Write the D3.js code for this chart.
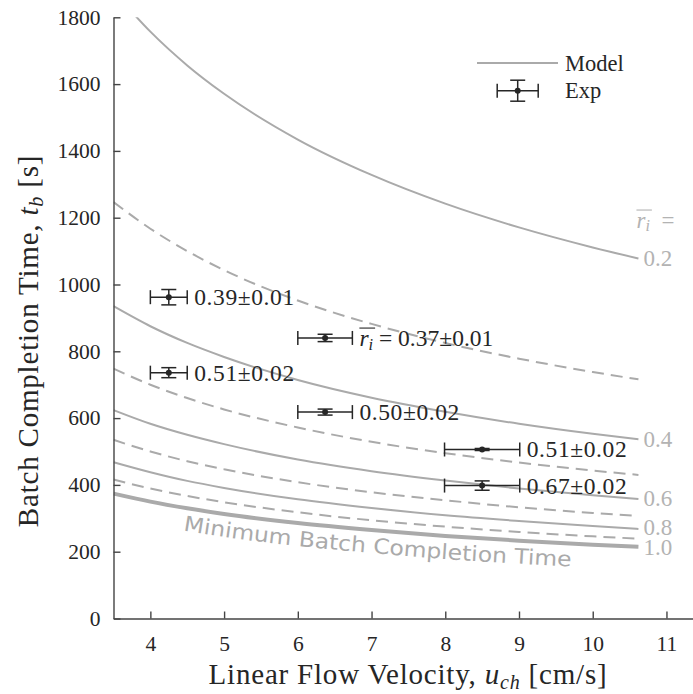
<!DOCTYPE html>
<html>
<head>
<meta charset="utf-8">
<script src="https://cdn.jsdelivr.net/npm/d3@7"></script>
<style>
  body { margin: 0; background: #fff; }
  text { font-family: "Liberation Serif", "DejaVu Serif", serif; fill: #262626; }
</style>
</head>
<body>
<div id="chart"></div>
<script>
// velocity grid where the model curves were read [cm/s]
const uGrid = [3.5, 4, 4.5, 5, 6, 7, 8, 9, 10, 10.62];

// model curves, batch completion time [s] per mean ratio r_i
const modelR = ["0.2", "0.3", "0.4", "0.5", "0.6", "0.7", "0.8", "0.9", "1.0"];
const t02 = [1878, 1757, 1656, 1571, 1434, 1328, 1242, 1171, 1111, 1078];
const t03 = [1247, 1167, 1100, 1043, 952, 882, 825, 778, 738, 716];
const t04 = [935, 875, 825, 783, 714, 661, 619, 583, 553, 537];
const t05 = [748, 700, 660, 626, 572, 529, 495, 467, 443, 430];
const t06 = [624, 583, 550, 522, 476, 441, 413, 389, 369, 358];
const t07 = [535, 500, 471, 447, 408, 378, 354, 333, 316, 307];
const t08 = [468, 438, 412, 391, 357, 331, 309, 292, 277, 268];
const t09 = [416, 389, 367, 348, 318, 294, 275, 259, 246, 239];
const t10 = [374, 350, 330, 313, 286, 265, 247, 233, 221, 215];
const modelT = [t02, t03, t04, t05, t06, t07, t08, t09, t10];
const labelledR = ["0.2", "0.4", "0.6", "0.8", "1.0"];

// experiments
const expU = [4.25, 4.25, 6.37, 6.37, 8.5, 8.5];
const expUErr = [0.25, 0.25, 0.37, 0.37, 0.51, 0.51];
const expT = [962, 736, 840, 618, 506, 398];
const expTErr = [23, 15, 11, 9, 3, 14];
const expLabel = ["0.39±0.01", "0.51±0.02", "0.37±0.01", "0.50±0.02", "0.51±0.02", "0.67±0.02"];

const xTicks = [4, 5, 6, 7, 8, 9, 10, 11];
const yTicks = [0, 200, 400, 600, 800, 1000, 1200, 1400, 1600, 1800];

const W = 693, H = 694;
const pLeft = 113.5, pRight = 693, pTop = 17.3, pBottom = 618.5;
const grey = "#aaaaaa";
const labelGrey = "#b3b3b3";
const ink = "#262626";

const svg = d3.select("#chart").append("svg")
  .attr("width", W)
  .attr("height", H);

const x = d3.scaleLinear().domain([3.5, 11.36]).range([pLeft, pRight]);
const y = d3.scaleLinear().domain([0, 1800]).range([pBottom, pTop]);

svg.append("clipPath").attr("id", "clip")
  .append("rect")
  .attr("x", pLeft).attr("y", pTop)
  .attr("width", pRight - pLeft).attr("height", pBottom - pTop);

// model lines
const line = d3.line()
  .x(d => x(d[0]))
  .y(d => y(d[1]))
  .curve(d3.curveMonotoneX);

const curves = modelR.map((r, i) => ({
  r,
  pts: uGrid.map((u, j) => [u, modelT[i][j]])
}));

svg.append("g").attr("clip-path", "url(#clip)")
  .selectAll("path")
  .data(curves)
  .join("path")
  .attr("d", d => line(d.pts))
  .attr("fill", "none")
  .attr("stroke", grey)
  .attr("stroke-width", d => d.r === "1.0" ? 4 : 2)
  .attr("stroke-dasharray", (d, i) => i % 2 === 1 ? "12,7" : null);

// minimum batch completion time label along the r=1 curve
const offsetLine = d3.line()
  .x(d => x(d[0]))
  .y(d => y(d[1]) + 23)
  .curve(d3.curveMonotoneX);

svg.append("path")
  .attr("id", "minPath")
  .attr("d", offsetLine(curves[curves.length - 1].pts))
  .attr("fill", "none")
  .attr("stroke", "none");

svg.append("text")
  .style("font-family", "'DejaVu Sans', sans-serif")
  .style("font-size", "21px")
  .style("fill", grey)
  .append("textPath")
  .attr("href", "#minPath")
  .attr("startOffset", 71)
  .attr("textLength", 390)
  .attr("lengthAdjust", "spacingAndGlyphs")
  .text("Minimum Batch Completion Time");

// right-hand r_i labels
const uEnd = uGrid[uGrid.length - 1];
const nudge = { "0.8": -1, "1.0": 1 };
svg.append("g")
  .selectAll("text")
  .data(curves.filter(d => labelledR.includes(d.r)))
  .join("text")
  .attr("x", x(uEnd) + 5)
  .attr("y", d => y(d.pts[d.pts.length - 1][1]) + (nudge[d.r] || 0))
  .attr("dominant-baseline", "central")
  .style("font-size", "23px")
  .style("fill", labelGrey)
  .text(d => d.r);

function rBar(sel, xPos, yPos, size, color, rest) {
  const t = sel.append("text")
    .attr("x", xPos)
    .attr("y", yPos)
    .attr("dominant-baseline", "central")
    .style("font-size", size + "px")
    .style("fill", color);
  t.append("tspan").style("font-style", "italic").text("r");
  t.append("tspan").style("font-style", "italic")
    .style("font-size", (size * 0.7) + "px")
    .attr("dy", size * 0.25).text("i");
  t.append("tspan").attr("dy", -size * 0.25).text(rest);
  const node = t.node();
  const w = node.getSubStringLength(0, 2);
  sel.append("line")
    .attr("x1", xPos).attr("x2", xPos + w + 2)
    .attr("y1", yPos - size * 0.42).attr("y2", yPos - size * 0.42)
    .attr("stroke", color)
    .attr("stroke-width", 1.1);
}

rBar(svg, x(uEnd) - 2, y(1200) + 2, 23, labelGrey, "\u2002=");

// axes
const xAxis = svg.append("g")
  .attr("transform", `translate(0,${pBottom})`)
  .call(d3.axisBottom(x).tickValues(xTicks).tickFormat(d3.format("d"))
    .tickSize(-7).tickSizeOuter(0).tickPadding(17));

const yAxis = svg.append("g")
  .attr("transform", `translate(${pLeft},0)`)
  .call(d3.axisLeft(y).tickValues(yTicks).tickFormat(d3.format("d"))
    .tickSize(-7).tickSizeOuter(0).tickPadding(13));

[xAxis, yAxis].forEach(g => {
  g.attr("font-family", null).attr("font-size", null);
  g.select(".domain").attr("stroke", "#444").attr("stroke-width", 1.4);
  g.selectAll(".tick line").attr("stroke", "#444").attr("stroke-width", 1.4);
  g.selectAll(".tick text")
    .style("font-family", "'Liberation Serif', serif")
    .style("font-size", "21.5px")
    .attr("fill", ink);
});

// error bars
const bars = svg.append("g")
  .attr("stroke", ink)
  .attr("stroke-width", 1.5)
  .attr("fill", "none");

expU.forEach((u, i) => {
  const cx = x(u), cy = y(expT[i]);
  const x0 = x(u - expUErr[i]), x1 = x(u + expUErr[i]);
  const y0 = y(expT[i] - expTErr[i]), y1 = y(expT[i] + expTErr[i]);
  bars.append("line").attr("x1", x0).attr("x2", x1).attr("y1", cy).attr("y2", cy);
  bars.append("line").attr("x1", x0).attr("x2", x0).attr("y1", cy - 7).attr("y2", cy + 7);
  bars.append("line").attr("x1", x1).attr("x2", x1).attr("y1", cy - 7).attr("y2", cy + 7);
  bars.append("line").attr("x1", cx).attr("x2", cx).attr("y1", y0).attr("y2", y1);
  bars.append("line").attr("x1", cx - 7.5).attr("x2", cx + 7.5).attr("y1", y0).attr("y2", y0);
  bars.append("line").attr("x1", cx - 7.5).attr("x2", cx + 7.5).attr("y1", y1).attr("y2", y1);
  svg.append("circle").attr("cx", cx).attr("cy", cy).attr("r", 3).attr("fill", ink);

  const lx = x1 + 7;
  if (i === 2) {
    rBar(svg, lx, cy, 23.5, ink, " = " + expLabel[i]);
  } else {
    svg.append("text")
      .attr("x", lx)
      .attr("y", cy)
      .attr("dominant-baseline", "central")
      .style("font-size", "23.5px")
      .style("letter-spacing", "0.6px")
      .text(expLabel[i]);
  }
});

// legend
const lg = svg.append("g");
lg.append("line")
  .attr("x1", 477).attr("x2", 558).attr("y1", 63).attr("y2", 63)
  .attr("stroke", grey).attr("stroke-width", 2);
lg.append("text").attr("x", 565).attr("y", 63)
  .attr("dominant-baseline", "central").style("font-size", "22.5px").text("Model");
const ex = 517.7, ey = 90.7;
const lgb = lg.append("g").attr("stroke", ink).attr("stroke-width", 1.5);
lgb.append("line").attr("x1", ex - 20.5).attr("x2", ex + 20.5).attr("y1", ey).attr("y2", ey);
lgb.append("line").attr("x1", ex - 20.5).attr("x2", ex - 20.5).attr("y1", ey - 7).attr("y2", ey + 7);
lgb.append("line").attr("x1", ex + 20.5).attr("x2", ex + 20.5).attr("y1", ey - 7).attr("y2", ey + 7);
lgb.append("line").attr("x1", ex).attr("x2", ex).attr("y1", ey - 10.5).attr("y2", ey + 10.5);
lgb.append("line").attr("x1", ex - 7.5).attr("x2", ex + 7.5).attr("y1", ey - 10.5).attr("y2", ey - 10.5);
lgb.append("line").attr("x1", ex - 7.5).attr("x2", ex + 7.5).attr("y1", ey + 10.5).attr("y2", ey + 10.5);
lg.append("circle").attr("cx", ex).attr("cy", ey).attr("r", 3).attr("fill", ink);
lg.append("text").attr("x", 565).attr("y", ey)
  .attr("dominant-baseline", "central").style("font-size", "22.5px").text("Exp");

// axis titles
const xt = svg.append("text")
  .attr("x", 408)
  .attr("y", 684)
  .attr("text-anchor", "middle")
  .style("font-size", "29px")
  .style("letter-spacing", "0.8px");
xt.append("tspan").text("Linear Flow Velocity, ");
xt.append("tspan").style("font-style", "italic").text("u");
xt.append("tspan").style("font-style", "italic").style("font-size", "20px").attr("dy", 5).text("ch");
xt.append("tspan").attr("dy", -5).text(" [cm/s]");

const yt = svg.append("text")
  .attr("transform", "translate(38,341) rotate(-90)")
  .attr("text-anchor", "middle")
  .style("font-size", "29px")
  .style("letter-spacing", "0.8px");
yt.append("tspan").text("Batch Completion Time, ");
yt.append("tspan").style("font-style", "italic").text("t");
yt.append("tspan").style("font-style", "italic").style("font-size", "20px").attr("dy", 5).text("b");
yt.append("tspan").attr("dy", -5).text(" [s]");
</script>
</body>
</html>
